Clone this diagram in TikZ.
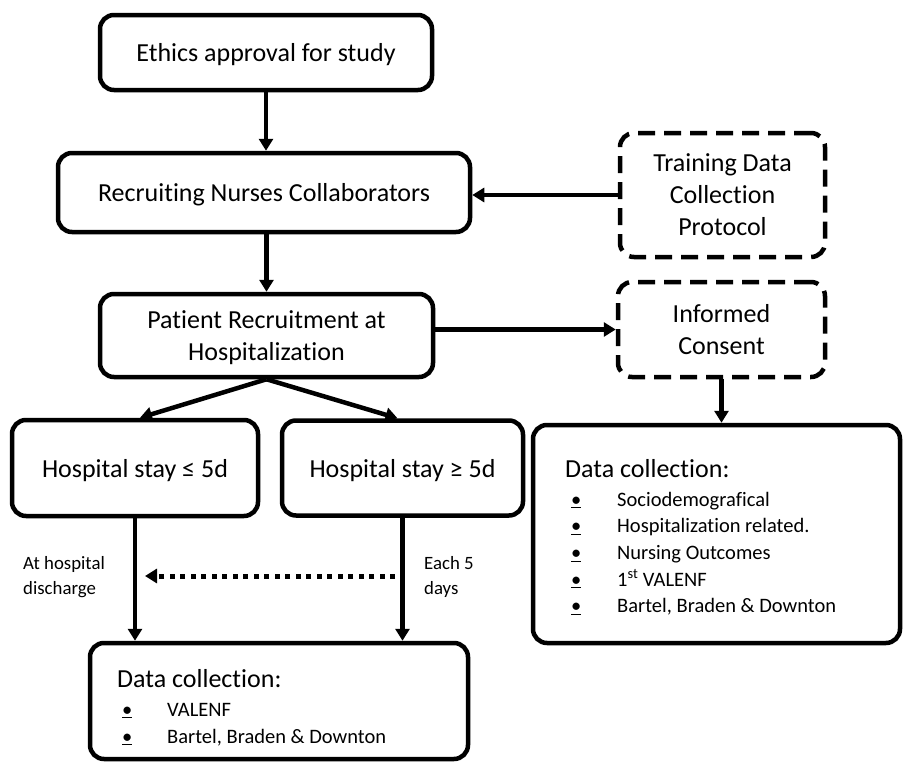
\documentclass[tikz,border=0pt]{standalone}
\usepackage{fontspec}
\setmainfont{Carlito}[Ligatures=NoCommon]
\usetikzlibrary{arrows.meta,calc}
\begin{document}
\begin{tikzpicture}[x=1pt,y=-1pt,
  box/.style={draw, rounded corners=14pt, line width=4.5pt, align=center, inner sep=0pt, text depth=0pt, font=\fontsize{26}{32}\selectfont},
  dbox/.style={box, dash pattern=on 17pt off 9pt},
  conn/.style={line width=4.5pt, -{Triangle[length=12pt,width=14pt]}},
  dotconn/.style={line width=5pt, dash pattern=on 5pt off 5.5pt, -{Triangle[length=12pt,width=14pt]}},
  head/.style={anchor=base west, inner sep=0pt, font=\fontsize{26}{30}\selectfont},
  item/.style={anchor=base west, inner sep=0pt, font=\fontsize{20.5}{24}\selectfont},
  lbl/.style={anchor=west, align=left, inner sep=0pt, font=\fontsize{18.8}{25}\selectfont}
]
\useasboundingbox (0,0) rectangle (903,763);

\node[box, minimum width=332pt, minimum height=75pt] (ethics) at (266,52.5) {Ethics approval for study};
\node[box, minimum width=412pt, minimum height=79pt] (recruit) at (264,192.5) {Recruiting Nurses Collaborators};
\node[dbox, minimum width=205pt, minimum height=124pt] (train) at (722.5,195) {Training Data\\Collection\\Protocol};
\node[box, minimum width=333pt, minimum height=83pt] (patient) at (266.5,335.5) {Patient Recruitment at\\Hospitalization};
\node[dbox, minimum width=207pt, minimum height=95pt] (consent) at (721.5,329.5) {Informed\\Consent};
\node[box, minimum width=246pt, minimum height=96pt] (short) at (135,468) {Hospital stay ≤ 5d};
\node[box, minimum width=241pt, minimum height=95pt] (long) at (402.5,468) {Hospital stay ≥ 5d};
\node[box, minimum width=367pt, minimum height=218pt] (dcr) at (716.5,534) {};
\node[box, minimum width=378pt, minimum height=116pt] (dcb) at (279,701) {};

% right data collection
\node[head] (rh) at (565,477) {Data collection:};
\foreach \i/\t in {0/Sociodemografical,1/Hospitalization related.,2/Nursing Outcomes,3/1\textsuperscript{st} VALENF,4/{Bartel, Braden \& Downton}}{
  \node[item] (rb\i) at (571,{506+26.7*\i}) {\underline{•}};
  \node[item] (ri\i) at (617,{506+26.7*\i}) {\t};
}

% bottom data collection
\node[head] (bh) at (117,687) {Data collection:};
\node[item] (bb0) at (122,716) {\underline{•}};
\node[item] (bi0) at (167,716) {VALENF};
\node[item] (bb1) at (122,743) {\underline{•}};
\node[item] (bi1) at (167,743) {Bartel, Braden \& Downton};

% labels
\node[lbl] (l1) at (23,577) {At hospital\\discharge};
\node[lbl] (l2) at (424,577) {Each 5\\days};

% connectors
\draw[conn] (ethics.south) -- (ethics.south |- recruit.north);
\draw[conn] (patient.north |- recruit.south) -- (patient.north);
\draw[conn] (train.west) -- (recruit.east |- train.west);
\draw[conn] (patient.east |- consent.west) -- (consent.west);
\draw[conn] (consent.south) -- (consent.south |- dcr.north);
\draw[conn] (patient.south) -- ($(short.north)+(5,0)$);
\draw[conn] (patient.south) -- ($(long.north)+(-5,0)$);
\draw[conn] (short.south) -- (short.south |- dcb.north);
\draw[conn] (long.south) -- (long.south |- dcb.north);
\coordinate (d1) at (395,576);
\coordinate (d2) at (145,576);
\draw[dotconn] (d1) -- (d2);
\end{tikzpicture}
\end{document}
